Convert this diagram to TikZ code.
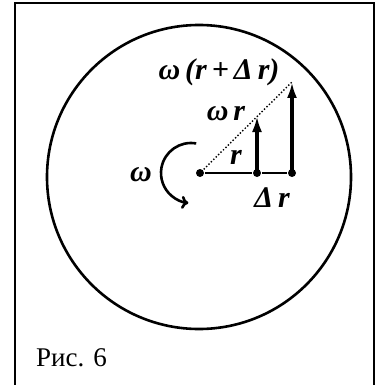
\documentclass[tikz,border=0pt]{standalone}
\usepackage{fontspec}
\setmainfont{Liberation Serif}
\newfontfamily\timesfont{Liberation Serif}
\usetikzlibrary{arrows.meta,positioning}

\begin{document}
\begin{tikzpicture}[x=1pt, y=-1pt, line width=2.3pt,
  dot/.style={circle, fill, inner sep=0pt, minimum size=8pt},
  lbl/.style={font=\fontsize{30}{32}\timesfont\bfseries\itshape, inner sep=0pt},
  vec/.style={line width=3.2pt, -{Latex[length=16pt, width=10pt]}}]
  \useasboundingbox (0,0) rectangle (377,385);
  % frame and disc
  \draw[line width=2.6pt] (15,386) -- (15,3) -- (374,3) -- (374,386);
  \draw[line width=2.6pt] (199,177) circle (152);
  % points on the radius
  \node[dot] (o) at (200,173) {};
  \node[dot] (a) at (257,173) {};
  \node[dot] (b) at (292,173) {};
  \coordinate (ta) at (257,116);
  \coordinate (tb) at (292,82);
  \draw (o) -- (a) -- (b);
  \draw[dotted, line width=1.4pt] (o) -- (tb);
  \draw[vec] (a.center) -- (ta);
  \draw[vec] (b.center) -- (tb);
  % rotation
  \draw[line width=2.6pt, -{To[length=7pt, width=13pt]}] (191,173) ++(280:30)
    arc[start angle=280, end angle=95, radius=30];
  % labels
  \node[lbl] (wdr) at (219,72) {ω\,(r\,+\,Δ\,r)};
  \node[lbl] (wr) at (226,114) {ω\,r};
  \node[lbl] (r) at (236,157) {r};
  \node[lbl] (w) at (141,175) {ω};
  \node[lbl] (dr) at (272,198) {Δ\,r};
  \node[font=\fontsize{27}{29}\timesfont, anchor=base west, inner sep=0pt] (cap) at (35,366) {Рис. 6};
\end{tikzpicture}
\end{document}
